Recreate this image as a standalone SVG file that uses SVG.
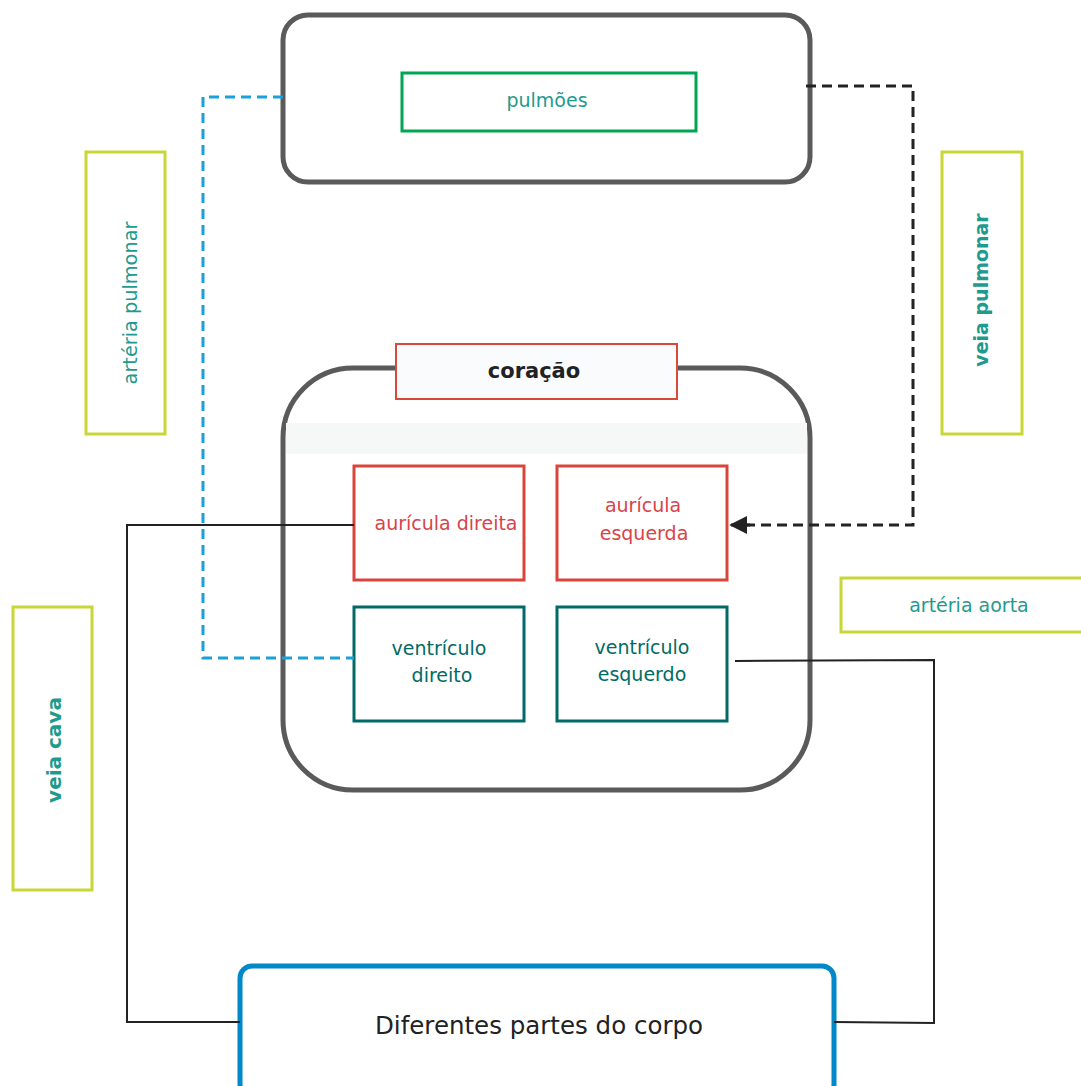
<svg xmlns="http://www.w3.org/2000/svg" width="1081" height="1086" viewBox="0 0 1081 1086">
<defs>
<style>
.t{font-family:"DejaVu Sans","Liberation Sans",sans-serif;text-anchor:middle;dominant-baseline:central}
.teal{fill:#1f9a8e}
.red{fill:#d9434a}
.dk{fill:#006b66}
.lbl{fill:#fff;stroke:#c8d636;stroke-width:3}
.au{fill:#fff;stroke:#d9453a;stroke-width:3}
.ve{fill:#fff;stroke:#006b66;stroke-width:3}
.cont{fill:#fff;stroke:#5a5a5a;stroke-width:5}
.solid{fill:none;stroke:#222;stroke-width:2}
</style>
<marker id="ah" viewBox="0 0 10 10" refX="9" refY="5" markerWidth="6" markerHeight="6" orient="auto" markerUnits="strokeWidth">
<path d="M0,0 L10,5 L0,10 z" fill="#222"/>
</marker>
</defs>
<rect width="1081" height="1086" fill="#fff"/>

<g id="pulmoes-container">
<rect class="cont" x="283" y="15" width="527" height="167" rx="25"/>
</g>
<g id="pulmoes">
<rect x="402" y="73" width="294" height="58" fill="#fff" stroke="#00a651" stroke-width="3"/>
<text class="t teal" x="547" y="100" font-size="19">pulmões</text>
</g>

<g id="coracao-container">
<rect class="cont" x="283" y="368" width="527" height="422" rx="70"/>
<rect x="286" y="423" width="521" height="31" fill="#f6f7f7"/>
</g>
<g id="coracao">
<rect x="396" y="344" width="281" height="55" fill="#fafbfd" stroke="#d9493a" stroke-width="2"/>
<text class="t" x="534" y="371" font-size="21" font-weight="bold" fill="#222">coração</text>
</g>

<g id="auricula-direita">
<rect class="au" x="354" y="466" width="170" height="114"/>
<text class="t red" x="446" y="523" font-size="19">aurícula direita</text>
</g>
<g id="auricula-esquerda">
<rect class="au" x="557" y="466" width="170" height="114"/>
<text class="t red" x="643" y="505" font-size="19">aurícula</text>
<text class="t red" x="644" y="533" font-size="19">esquerda</text>
</g>
<g id="ventriculo-direito">
<rect class="ve" x="354" y="607" width="170" height="114"/>
<text class="t dk" x="439" y="648" font-size="19">ventrículo</text>
<text class="t dk" x="442" y="675" font-size="19">direito</text>
</g>
<g id="ventriculo-esquerdo">
<rect class="ve" x="557" y="607" width="170" height="114"/>
<text class="t dk" x="642" y="647" font-size="19">ventrículo</text>
<text class="t dk" x="642" y="674" font-size="19">esquerdo</text>
</g>

<g id="arteria-pulmonar">
<rect class="lbl" x="86" y="152" width="79" height="282"/>
<text class="t teal" transform="translate(130,303) rotate(-90)" font-size="19.3">artéria pulmonar</text>
</g>
<g id="veia-pulmonar">
<rect class="lbl" x="942" y="152" width="80" height="282"/>
<text class="t teal" transform="translate(981,290) rotate(-90)" font-size="19" font-weight="bold">veia pulmonar</text>
</g>
<g id="veia-cava">
<rect class="lbl" x="13" y="607" width="79" height="283"/>
<text class="t teal" transform="translate(54,750) rotate(-90)" font-size="20" font-weight="bold">veia cava</text>
</g>
<g id="arteria-aorta">
<rect class="lbl" x="841" y="578" width="245" height="54"/>
<text class="t teal" x="969" y="605" font-size="19">artéria aorta</text>
</g>

<g id="corpo">
<rect x="240" y="966" width="594" height="130" rx="12" fill="#fff" stroke="#0088c8" stroke-width="5"/>
<text class="t" x="539" y="1025" font-size="24.5" fill="#222" font-family="'Open Sans','Liberation Sans',sans-serif">Diferentes partes do corpo</text>
</g>

<g id="connectors">
<path d="M283,97 H203 V658 H354" fill="none" stroke="#1aa0dc" stroke-width="3" stroke-dasharray="10,6"/>
<path d="M806,86 H913 V525 H744" fill="none" stroke="#222" stroke-width="3" stroke-dasharray="10,6"/>
<path d="M750,525 L731,525" fill="none" stroke="#222" stroke-width="3" marker-end="url(#ah)"/>
<path class="solid" d="M354,525 H127 V1022 H240"/>
<path class="solid" d="M735,661 L934,660 V1023 L834,1022"/>
</g>
</svg>
